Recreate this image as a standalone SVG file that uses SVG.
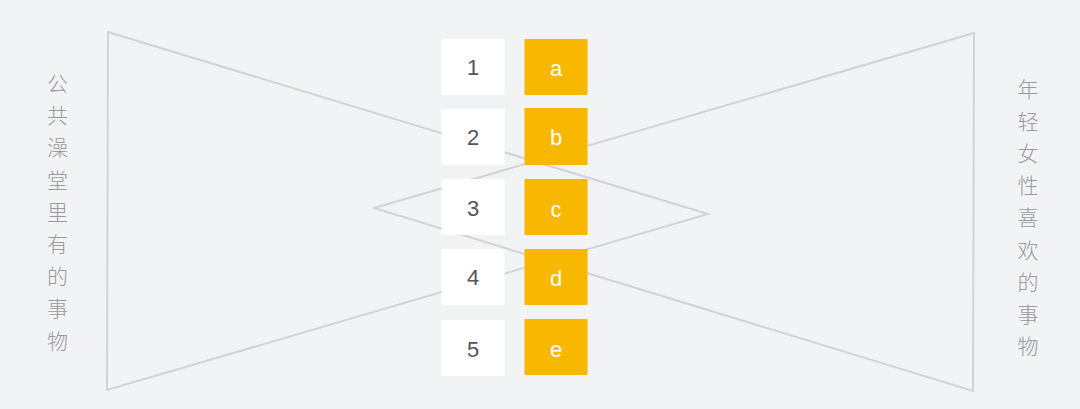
<svg xmlns="http://www.w3.org/2000/svg" width="1080" height="409" viewBox="0 0 1080 409">
<style>
.bg{fill:#f2f3f5}
.ln{fill:none;stroke:#d2d3d5;stroke-width:2;stroke-linejoin:miter}
.wb{fill:#ffffff}
.ob{fill:#f8b700}
.num{font-family:"Liberation Sans",Arial,sans-serif;font-size:22px;fill:#555555;text-anchor:middle;dominant-baseline:central}
.let{font-family:"Liberation Sans",Arial,sans-serif;font-size:22px;fill:#ffffff;text-anchor:middle;dominant-baseline:central}
.cjk{font-family:"Noto Sans CJK SC","Noto Sans",sans-serif;font-size:21px;fill:#999a9c;text-anchor:middle;dominant-baseline:central;font-weight:300}
</style>
<rect class="bg" x="0" y="0" width="1080" height="409"/>
<g id="connectors">
<polygon class="ln" points="108,32 708,214 107,390"/>
<polygon class="ln" points="974,33 374,208 973,391"/>
</g>
<g id="n1"><rect class="wb" x="441.5" y="39" width="63" height="56"/><text class="num" x="473" y="67">1</text></g>
<g id="n2"><rect class="wb" x="441.5" y="109" width="63" height="56"/><text class="num" x="473" y="137">2</text></g>
<g id="n3"><rect class="wb" x="441.5" y="179" width="63" height="56"/><text class="num" x="473" y="208">3</text></g>
<g id="n4"><rect class="wb" x="441.5" y="249" width="63" height="56"/><text class="num" x="473" y="277">4</text></g>
<g id="n5"><rect class="wb" x="441.5" y="320" width="63" height="56"/><text class="num" x="473" y="349">5</text></g>
<g id="na"><rect class="ob" x="524.5" y="39" width="63" height="56"/><text class="let" x="556" y="68">a</text></g>
<g id="nb"><rect class="ob" x="524.5" y="108" width="63" height="57"/><text class="let" x="556" y="137">b</text></g>
<g id="nc"><rect class="ob" x="524.5" y="179" width="63" height="56"/><text class="let" x="556" y="209">c</text></g>
<g id="nd"><rect class="ob" x="524.5" y="249" width="63" height="56"/><text class="let" x="556" y="278">d</text></g>
<g id="ne"><rect class="ob" x="524.5" y="319" width="63" height="56"/><text class="let" x="556" y="349">e</text></g>
<g id="left-label">
<text class="cjk" x="57.5" y="82">公</text>
<text class="cjk" x="57.5" y="114.2">共</text>
<text class="cjk" x="57.5" y="146.4">澡</text>
<text class="cjk" x="57.5" y="178.6">堂</text>
<text class="cjk" x="57.5" y="210.8">里</text>
<text class="cjk" x="57.5" y="243">有</text>
<text class="cjk" x="57.5" y="275.2">的</text>
<text class="cjk" x="57.5" y="307.4">事</text>
<text class="cjk" x="57.5" y="339.6">物</text>
</g>
<g id="right-label">
<text class="cjk" x="1028" y="87.5">年</text>
<text class="cjk" x="1028" y="119.7">轻</text>
<text class="cjk" x="1028" y="151.9">女</text>
<text class="cjk" x="1028" y="184.1">性</text>
<text class="cjk" x="1028" y="216.3">喜</text>
<text class="cjk" x="1028" y="248.5">欢</text>
<text class="cjk" x="1028" y="280.7">的</text>
<text class="cjk" x="1028" y="312.9">事</text>
<text class="cjk" x="1028" y="345.1">物</text>
</g>
</svg>
